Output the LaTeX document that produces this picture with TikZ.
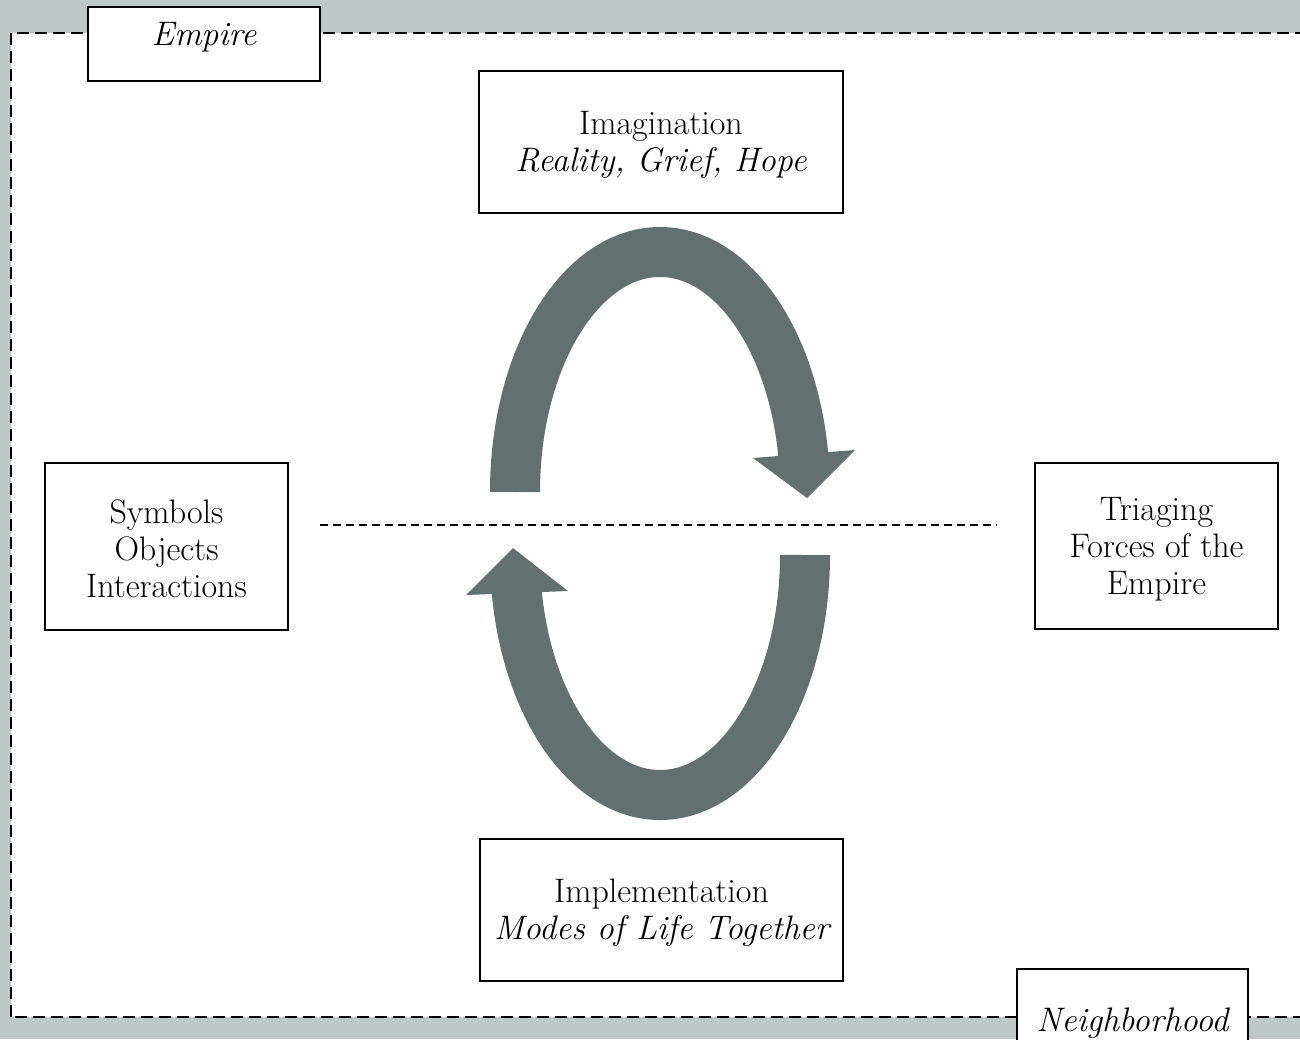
\documentclass[tikz,border=0pt]{standalone}
\usepackage{fontspec}
\definecolor{bgc}{RGB}{191,199,199}
\definecolor{arrowc}{RGB}{98,113,112}
\newcommand{\bodyfont}{\fontsize{34}{37}\selectfont}
\tikzset{
  framebox/.style={draw, line width=2pt, fill=white, inner sep=0pt},
  txt/.style={align=center, font=\bodyfont, inner sep=0pt},
  band/.style={draw=arrowc, line width=50pt},
  head/.style={fill=arrowc},
}
\begin{document}
\begin{tikzpicture}[x=1pt,y=1pt]
\useasboundingbox (0,0) rectangle (1300,-1039);
\clip (0,0) rectangle (1300,-1039);
\fill[bgc] (0,0) rectangle (1300,-1039);
\draw[fill=white, line width=2pt, dash pattern=on 12pt off 6pt] (11,-1017) -- (11,-33) -- (1330,-33) -- (1330,-1017) -- cycle;

% corner labels
\node[framebox, minimum width=232pt, minimum height=74pt] (empirebox) at (204,-44) {};
\node[txt] (empire) at (204,-37) {\itshape Empire};
\node[framebox, minimum width=231pt, minimum height=90pt] (nbox) at (1132.5,-1014) {};
\node[txt] (nbh) at (1132.5,-1023) {\itshape Neighborhood};

% main boxes
\node[framebox, minimum width=364pt, minimum height=142pt] (imgbox) at (661,-142) {};
\node[txt] (img) at (661,-144.5) {Imagination\\\itshape Reality, Grief, Hope};

\node[framebox, minimum width=243pt, minimum height=167pt] (symbox) at (166.5,-546.5) {};
\node[txt] (sym) at (166.5,-549) {Symbols\\Objects\\Interactions};

\node[framebox, minimum width=243pt, minimum height=166pt] (tribox) at (1156.5,-546) {};
\node[txt] (tri) at (1156.5,-549) {Triaging\\Forces of the\\Empire};

\node[framebox, minimum width=363pt, minimum height=142pt] (impbox) at (661.5,-910) {};
\node[txt] (imp) at (661.5,-913) {Implementation\\\itshape Modes of Life Together};

% dashed divider
\coordinate (dl) at (320,-525);
\coordinate (dr) at (997,-525);
\draw[line width=1.3pt, dash pattern=on 8pt off 5pt] (dl) -- (dr);

% upper cycle arrow
\draw[band] (515,-492) arc[start angle=180, end angle=7, x radius=145, y radius=240];
\fill[head] (753,-458) -- (855,-450) -- (807,-498) -- cycle;

% lower cycle arrow
\draw[band] (805,-555) arc[start angle=0, end angle=-173, x radius=145, y radius=240];
\fill[head] (466,-595) -- (568,-591) -- (513,-548) -- cycle;
\end{tikzpicture}
\end{document}
